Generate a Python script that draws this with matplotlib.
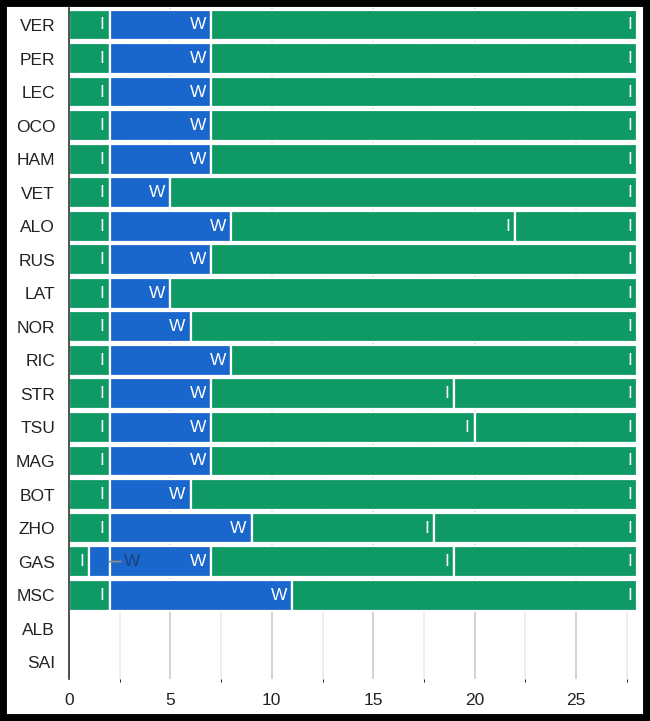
import matplotlib.pyplot as plt
from matplotlib.patches import Rectangle

plt.rcParams['font.family'] = ['Liberation Sans', 'DejaVu Sans']

drivers = ["VER", "PER", "LEC", "OCO", "HAM", "VET", "ALO", "RUS", "LAT", "NOR",
           "RIC", "STR", "TSU", "MAG", "BOT", "ZHO", "GAS", "MSC", "ALB", "SAI"]

# lap at which each stint ended, and the tyre used in it
stint_ends = [
    [2, 7, 28], [2, 7, 28], [2, 7, 28], [2, 7, 28], [2, 7, 28],
    [2, 5, 28], [2, 8, 22, 28], [2, 7, 28], [2, 5, 28], [2, 6, 28],
    [2, 8, 28], [2, 7, 19, 28], [2, 7, 20, 28], [2, 7, 28], [2, 6, 28],
    [2, 9, 18, 28], [1, 2, 7, 19, 28], [2, 11, 28], [], [],
]
stint_tyres = [
    ["I", "W", "I"], ["I", "W", "I"], ["I", "W", "I"], ["I", "W", "I"], ["I", "W", "I"],
    ["I", "W", "I"], ["I", "W", "I", "I"], ["I", "W", "I"], ["I", "W", "I"], ["I", "W", "I"],
    ["I", "W", "I"], ["I", "W", "I", "I"], ["I", "W", "I", "I"], ["I", "W", "I"], ["I", "W", "I"],
    ["I", "W", "I", "I"], ["I", "W", "W", "I", "I"], ["I", "W", "I"], [], [],
]

colores = {"I": "#0f9964", "W": "#1966cc"}
min_ancho = {"I": 0.9, "W": 1.5}  # below this the label goes outside

fig = plt.figure(figsize=(6.5, 7.21), dpi=100)
ax = fig.add_axes([0.1062, 0.0583, 0.8735, 0.9303])

for i, (ends, tyres) in enumerate(zip(stint_ends, stint_tyres)):
    inicio = 0
    for fin, t in zip(ends, tyres):
        ax.barh(i, fin - inicio, left=inicio, height=0.92, color=colores[t],
                edgecolor="white", linewidth=1.6, zorder=2)
        if fin - inicio >= min_ancho[t]:
            ax.annotate(t, xy=(fin, i), xytext=(-5, 0), textcoords="offset pixels",
                        ha="right", va="center", color="white", fontsize=12.5, zorder=3)
        else:
            ax.annotate(t, xy=(fin, i), xytext=(14, 0), textcoords="offset pixels",
                        ha="left", va="center", color="#1d3f78", fontsize=12.5, zorder=3,
                        arrowprops=dict(arrowstyle="-", color="#8a8a8a", lw=1.3,
                                        shrinkA=0, shrinkB=0))
        inicio = fin

ax.set_xlim(0, 28)
ax.set_ylim(len(drivers) - 0.5, -0.5)
ax.set_yticks(range(len(drivers)))
ax.set_yticklabels(drivers, fontsize=12.5, color="#222222")
ax.set_xticks([0, 5, 10, 15, 20, 25])
ax.set_xticks([2.5, 7.5, 12.5, 17.5, 22.5, 27.5], minor=True)
ax.tick_params(axis="both", length=0, labelsize=12.5, colors="#222222")
ax.tick_params(axis="y", pad=10)
ax.tick_params(axis="x", pad=10)
ax.grid(axis="x", which="major", color="#cccccc", linewidth=1.2, zorder=0)
ax.grid(axis="x", which="minor", color="#ebebeb", linewidth=1.2, zorder=0)
ax.set_axisbelow(True)
for s in ["top", "right", "bottom"]:
    ax.spines[s].set_visible(False)
ax.spines["left"].set_color("#333333")
ax.spines["left"].set_linewidth(1.2)

# black frame round the picture
fig.patches.append(Rectangle((0, 0), 1, 1, transform=fig.transFigure, fill=False,
                             edgecolor="black", linewidth=10, zorder=10))

fig.savefig("out.png", dpi=100)
